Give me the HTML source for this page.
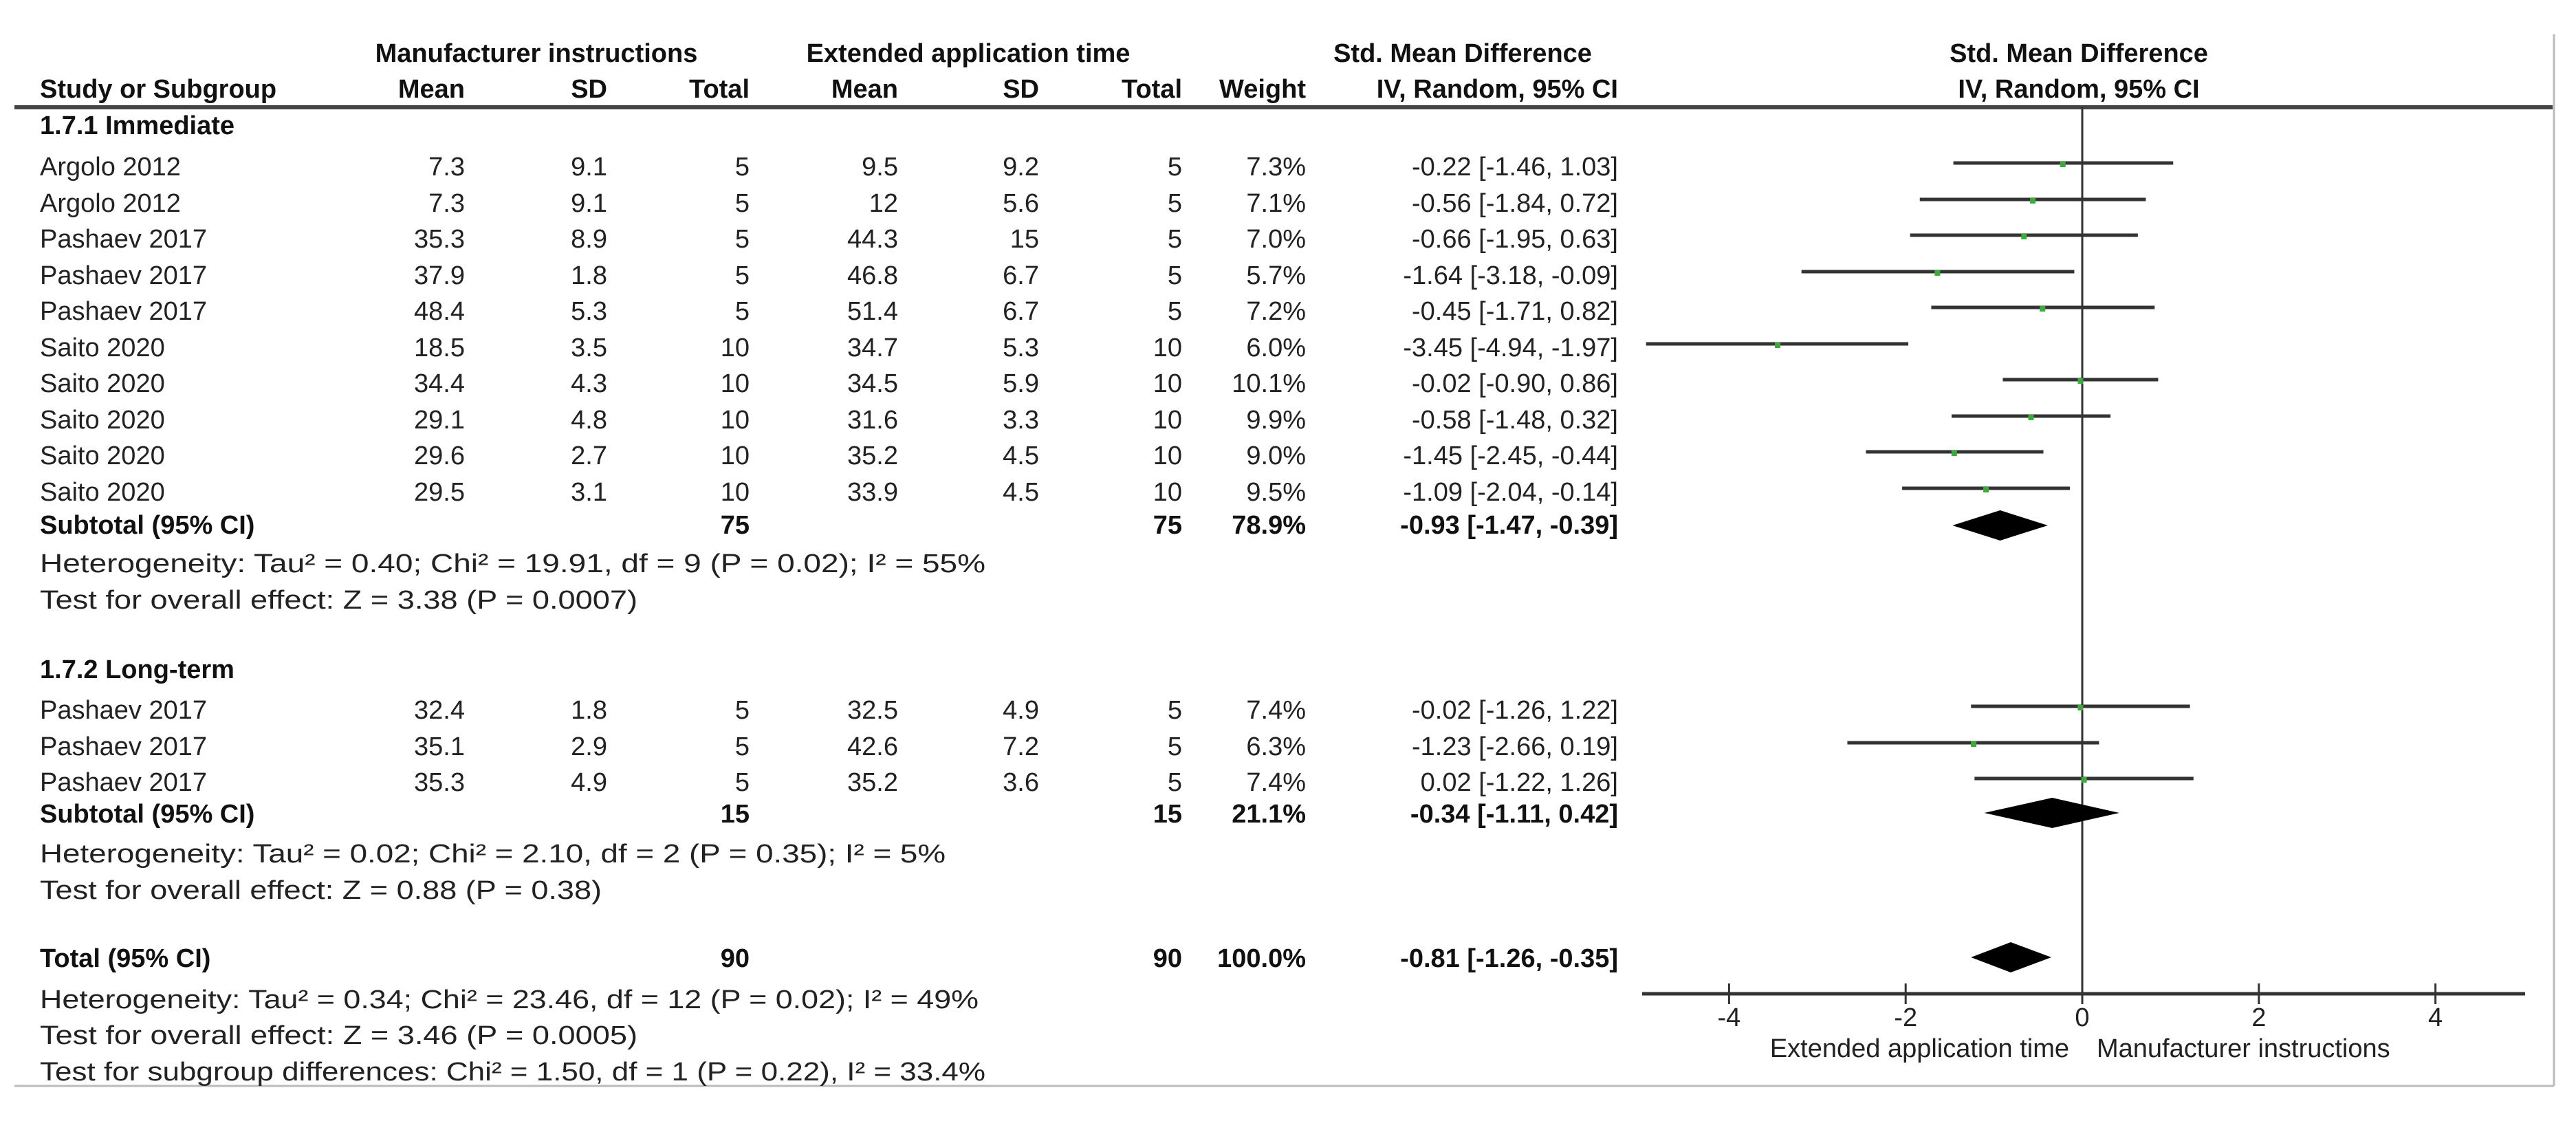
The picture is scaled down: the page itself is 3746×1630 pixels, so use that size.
<!DOCTYPE html>
<html><head><meta charset="utf-8"><style>
html,body{margin:0;padding:0;background:#fff;}
svg{display:block;}
text{font-family:"Liberation Sans",sans-serif;font-size:38px;fill:#222;}
.b{font-weight:bold;fill:#111;}
.e{text-anchor:end;}
.m{text-anchor:middle;}
</style></head><body>
<svg id="plot" width="3746" height="1630" viewBox="0 0 3746 1630" xmlns="http://www.w3.org/2000/svg">
<g>
<text class="b m" x="780" y="90">Manufacturer instructions</text>
<text class="b m" x="1408" y="90">Extended application time</text>
<text class="b m" x="2127" y="90">Std. Mean Difference</text>
<text class="b m" x="3023" y="90">Std. Mean Difference</text>
<text class="b" x="58" y="142">Study or Subgroup</text>
<text class="b e" x="676" y="142">Mean</text>
<text class="b e" x="883" y="142">SD</text>
<text class="b e" x="1090" y="142">Total</text>
<text class="b e" x="1306" y="142">Mean</text>
<text class="b e" x="1511" y="142">SD</text>
<text class="b e" x="1719" y="142">Total</text>
<text class="b e" x="1899" y="142">Weight</text>
<text class="b e" x="2353" y="142">IV, Random, 95% CI</text>
<text class="b m" x="3023" y="142">IV, Random, 95% CI</text>
</g>
<line x1="21" y1="156" x2="3712" y2="156" stroke="#444" stroke-width="6"/>
<line x1="3714" y1="50" x2="3714" y2="1579" stroke="#bbb" stroke-width="3"/>
<line x1="21" y1="1579" x2="3714" y2="1579" stroke="#bbb" stroke-width="3"/>
<g id="table"></g>
<g id="forest"></g>
</svg>
<script>
const studies=["Argolo 2012","Argolo 2012","Pashaev 2017","Pashaev 2017","Pashaev 2017","Saito 2020","Saito 2020","Saito 2020","Saito 2020","Saito 2020","Pashaev 2017","Pashaev 2017","Pashaev 2017"];
const mean1=["7.3","7.3","35.3","37.9","48.4","18.5","34.4","29.1","29.6","29.5","32.4","35.1","35.3"];
const sd1=["9.1","9.1","8.9","1.8","5.3","3.5","4.3","4.8","2.7","3.1","1.8","2.9","4.9"];
const n1=["5","5","5","5","5","10","10","10","10","10","5","5","5"];
const mean2=["9.5","12","44.3","46.8","51.4","34.7","34.5","31.6","35.2","33.9","32.5","42.6","35.2"];
const sd2=["9.2","5.6","15","6.7","6.7","5.3","5.9","3.3","4.5","4.5","4.9","7.2","3.6"];
const n2=n1;
const weights=["7.3%","7.1%","7.0%","5.7%","7.2%","6.0%","10.1%","9.9%","9.0%","9.5%","7.4%","6.3%","7.4%"];
const est=[-0.22,-0.56,-0.66,-1.64,-0.45,-3.45,-0.02,-0.58,-1.45,-1.09,-0.02,-1.23,0.02];
const lo=[-1.46,-1.84,-1.95,-3.18,-1.71,-4.94,-0.90,-1.48,-2.45,-2.04,-1.26,-2.66,-1.22];
const hi=[1.03,0.72,0.63,-0.09,0.82,-1.97,0.86,0.32,-0.44,-0.14,1.22,0.19,1.26];
const pooledEst=[-0.93,-0.34,-0.81];
const pooledLo=[-1.47,-1.11,-1.26];
const pooledHi=[-0.39,0.42,-0.35];
const ticks=[-4,-2,0,2,4];

const NS="http://www.w3.org/2000/svg";
const X0=3028, U=128.4;
function xs(v){return X0+v*U;}
function fmt(v){return (v<0?"-":"")+Math.abs(v).toFixed(2);}
const table=document.getElementById('table');
const forest=document.getElementById('forest');
function mk(tag,attrs,parent,txt){const e=document.createElementNS(NS,tag);for(const k in attrs)e.setAttribute(k,attrs[k]);if(txt!==undefined)e.textContent=txt;parent.appendChild(e);return e;}
function t(x,y,s,cls,parent,name){const e=mk('text',{x:x,y:y,class:cls||''},parent,s);


return e;}

const rowY=[255,308,360,413,465,518,570,623,675,728,1045,1098,1150];
studies.forEach((s,i)=>{
 const y=rowY[i];
 t(58,y,s,'',table,'study-name');
 t(676,y,mean1[i],'e',table,'mean1-value');
 t(883,y,sd1[i],'e',table,'sd1-value');
 t(1090,y,n1[i],'e',table,'total1-value');
 t(1306,y,mean2[i],'e',table,'mean2-value');
 t(1511,y,sd2[i],'e',table,'sd2-value');
 t(1719,y,n2[i],'e',table,'total2-value');
 t(1899,y,weights[i],'e',table,'weight-value');
 t(2353,y,fmt(est[i])+" ["+fmt(lo[i])+", "+fmt(hi[i])+"]",'e',table,'ci-value');
});
t(58,195,"1.7.1 Immediate",'b',table,'subgroup-title');
t(58,986,"1.7.2 Long-term",'b',table,'subgroup-title');
const sumY=[776,1196,1406];
const sumLab=["Subtotal (95% CI)","Subtotal (95% CI)","Total (95% CI)"];
const sumN=["75","15","90"];
const sumW=["78.9%","21.1%","100.0%"];
sumY.forEach((y,i)=>{
 t(58,y,sumLab[i],'b',table,'subtotal-label');
 t(1090,y,sumN[i],'b e',table,'subtotal-n1');
 t(1719,y,sumN[i],'b e',table,'subtotal-n2');
 t(1899,y,sumW[i],'b e',table,'subtotal-weight');
 t(2353,y,fmt(pooledEst[i])+" ["+fmt(pooledLo[i])+", "+fmt(pooledHi[i])+"]",'b e',table,'subtotal-ci');
});
const notes=[
 [832,"Heterogeneity: Tau² = 0.40; Chi² = 19.91, df = 9 (P = 0.02); I² = 55%",1375],
 [885,"Test for overall effect: Z = 3.38 (P = 0.0007)",869],
 [1254,"Heterogeneity: Tau² = 0.02; Chi² = 2.10, df = 2 (P = 0.35); I² = 5%",1317],
 [1307,"Test for overall effect: Z = 0.88 (P = 0.38)",817],
 [1466,"Heterogeneity: Tau² = 0.34; Chi² = 23.46, df = 12 (P = 0.02); I² = 49%",1365],
 [1518,"Test for overall effect: Z = 3.46 (P = 0.0005)",869],
 [1571,"Test for subgroup differences: Chi² = 1.50, df = 1 (P = 0.22), I² = 33.4%",1375]
];
notes.forEach(n=>{const e=t(58,n[0],n[1],'',table,'footnote');e.setAttribute('textLength',n[2]);e.setAttribute('lengthAdjust','spacingAndGlyphs');});

// zero line & axis
const zl=mk('line',{x1:xs(0),y1:156,x2:xs(0),y2:1445,stroke:'#333','stroke-width':3},forest);


const ax=mk('line',{x1:2388,y1:1445,x2:3672,y2:1445,stroke:'#333','stroke-width':5},forest);


ticks.forEach(v=>{
 const tk=mk('line',{x1:xs(v),y1:1430,x2:xs(v),y2:1460,stroke:'#333','stroke-width':3},forest);
 
 
 const lb=t(xs(v),1492,(v<0?"-":"")+Math.abs(v),'m',forest,'x-tick-label');
});
t(3009,1537,"Extended application time",'e',forest,'favours-left-label');
t(3049,1537,"Manufacturer instructions",'',forest,'favours-right-label');

est.forEach((v,i)=>{
 const y=rowY[i]-18;
 const ln=mk('line',{x1:xs(lo[i]),y1:y,x2:xs(hi[i]),y2:y,stroke:'#333','stroke-width':5},forest);
 
 
 const sq=mk('rect',{x:xs(v)-4,y:y-2,width:8,height:8,fill:'#3cab3c'},forest);
 
 
});
const dY=[764,1182,1392];
pooledEst.forEach((v,i)=>{
 const y=dY[i],h=22;
 const d=mk('polygon',{points:`${xs(pooledLo[i])},${y} ${xs(v)},${y-h} ${xs(pooledHi[i])},${y} ${xs(v)},${y+h}`,fill:'#000'},forest);
 
 
});
</script>
</body></html>
